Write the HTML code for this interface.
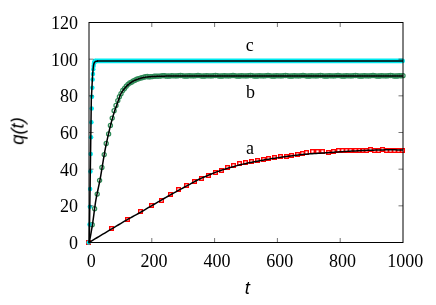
<!DOCTYPE html>
<html><head><meta charset="utf-8"><title>q(t)</title>
<style>html,body{margin:0;padding:0;background:#fff;}svg{display:block;}body{font-family:"Liberation Sans",sans-serif;}</style>
</head><body>
<svg width="436" height="305" viewBox="0 0 436 305">
<rect width="436" height="305" fill="#fff"/>
<g fill="none" stroke="#ff0000" stroke-width="1.4"><rect x="86.7" y="240.7" width="3.6" height="3.6"/><rect x="109.7" y="226.7" width="3.6" height="3.6"/><rect x="125.7" y="217.7" width="3.6" height="3.6"/><rect x="138.7" y="209.7" width="3.6" height="3.6"/><rect x="149.7" y="203.7" width="3.6" height="3.6"/><rect x="159.7" y="198.7" width="3.6" height="3.6"/><rect x="168.7" y="192.7" width="3.6" height="3.6"/><rect x="176.7" y="187.7" width="3.6" height="3.6"/><rect x="184.7" y="183.7" width="3.6" height="3.6"/><rect x="192.7" y="179.7" width="3.6" height="3.6"/><rect x="199.7" y="176.7" width="3.6" height="3.6"/><rect x="206.7" y="173.7" width="3.6" height="3.6"/><rect x="213.7" y="170.7" width="3.6" height="3.6"/><rect x="219.7" y="168.7" width="3.6" height="3.6"/><rect x="225.7" y="165.7" width="3.6" height="3.6"/><rect x="231.7" y="163.7" width="3.6" height="3.6"/><rect x="237.7" y="161.7" width="3.6" height="3.6"/><rect x="243.7" y="160.7" width="3.6" height="3.6"/><rect x="249.7" y="159.7" width="3.6" height="3.6"/><rect x="255.7" y="158.7" width="3.6" height="3.6"/><rect x="261.7" y="157.7" width="3.6" height="3.6"/><rect x="266.7" y="156.7" width="3.6" height="3.6"/><rect x="272.7" y="155.7" width="3.6" height="3.6"/><rect x="278.7" y="154.7" width="3.6" height="3.6"/><rect x="284.7" y="154.7" width="3.6" height="3.6"/><rect x="289.7" y="153.7" width="3.6" height="3.6"/><rect x="295.7" y="152.7" width="3.6" height="3.6"/><rect x="300.7" y="151.7" width="3.6" height="3.6"/><rect x="304.7" y="150.7" width="3.6" height="3.6"/><rect x="310.7" y="149.7" width="3.6" height="3.6"/><rect x="315.7" y="149.7" width="3.6" height="3.6"/><rect x="320.7" y="149.7" width="3.6" height="3.6"/><rect x="326.7" y="150.7" width="3.6" height="3.6"/><rect x="331.7" y="149.7" width="3.6" height="3.6"/><rect x="336.7" y="148.7" width="3.6" height="3.6"/><rect x="340.7" y="148.7" width="3.6" height="3.6"/><rect x="344.7" y="148.7" width="3.6" height="3.6"/><rect x="348.7" y="148.7" width="3.6" height="3.6"/><rect x="353.7" y="148.7" width="3.6" height="3.6"/><rect x="357.7" y="148.7" width="3.6" height="3.6"/><rect x="360.7" y="148.7" width="3.6" height="3.6"/><rect x="364.7" y="148.7" width="3.6" height="3.6"/><rect x="368.7" y="147.7" width="3.6" height="3.6"/><rect x="372.7" y="148.7" width="3.6" height="3.6"/><rect x="376.7" y="148.7" width="3.6" height="3.6"/><rect x="380.7" y="147.7" width="3.6" height="3.6"/><rect x="384.7" y="148.7" width="3.6" height="3.6"/><rect x="388.7" y="148.7" width="3.6" height="3.6"/><rect x="392.7" y="148.7" width="3.6" height="3.6"/><rect x="396.7" y="148.7" width="3.6" height="3.6"/><rect x="400.7" y="148.7" width="3.6" height="3.6"/></g>
<g fill="none" stroke="#2e8b57" stroke-width="1.25"><circle cx="92.20" cy="224.70" r="2.05"/><circle cx="94.60" cy="208.70" r="2.05"/><circle cx="97.20" cy="194.10" r="2.05"/><circle cx="99.60" cy="180.30" r="2.05"/><circle cx="101.90" cy="167.40" r="2.05"/><circle cx="104.20" cy="154.60" r="2.05"/><circle cx="106.20" cy="143.50" r="2.05"/><circle cx="108.60" cy="133.90" r="2.05"/><circle cx="110.40" cy="125.40" r="2.05"/><circle cx="112.20" cy="118.10" r="2.05"/><circle cx="114.10" cy="110.70" r="2.05"/><circle cx="116.00" cy="105.40" r="2.05"/><circle cx="117.80" cy="100.60" r="2.05"/><circle cx="119.40" cy="96.70" r="2.05"/><circle cx="121.00" cy="93.70" r="2.05"/><circle cx="122.75" cy="90.53" r="2.05"/><circle cx="124.50" cy="88.43" r="2.05"/><circle cx="126.25" cy="86.18" r="2.05"/><circle cx="128.00" cy="84.33" r="2.05"/><circle cx="129.75" cy="82.91" r="2.05"/><circle cx="131.50" cy="82.14" r="2.05"/><circle cx="133.25" cy="81.02" r="2.05"/><circle cx="135.00" cy="80.29" r="2.05"/><circle cx="136.75" cy="79.25" r="2.05"/><circle cx="138.50" cy="78.72" r="2.05"/><circle cx="140.25" cy="78.12" r="2.05"/><circle cx="142.00" cy="77.79" r="2.05"/><circle cx="143.75" cy="77.14" r="2.05"/><circle cx="145.50" cy="76.72" r="2.05"/><circle cx="147.25" cy="76.53" r="2.05"/><circle cx="149.00" cy="76.88" r="2.05"/><circle cx="150.75" cy="76.63" r="2.05"/><circle cx="152.50" cy="76.58" r="2.05"/><circle cx="154.25" cy="76.13" r="2.05"/><circle cx="156.00" cy="76.18" r="2.05"/><circle cx="157.75" cy="76.11" r="2.05"/><circle cx="159.50" cy="76.18" r="2.05"/><circle cx="161.25" cy="75.84" r="2.05"/><circle cx="163.00" cy="75.67" r="2.05"/><circle cx="164.75" cy="75.69" r="2.05"/><circle cx="166.50" cy="76.20" r="2.05"/><circle cx="168.25" cy="76.04" r="2.05"/><circle cx="170.00" cy="76.08" r="2.05"/><circle cx="171.75" cy="75.70" r="2.05"/><circle cx="173.50" cy="75.80" r="2.05"/><circle cx="175.25" cy="75.80" r="2.05"/><circle cx="177.00" cy="75.92" r="2.05"/><circle cx="178.75" cy="75.62" r="2.05"/><circle cx="180.50" cy="75.50" r="2.05"/><circle cx="182.25" cy="75.56" r="2.05"/><circle cx="184.00" cy="76.10" r="2.05"/><circle cx="185.75" cy="75.98" r="2.05"/><circle cx="187.50" cy="76.04" r="2.05"/><circle cx="189.25" cy="75.68" r="2.05"/><circle cx="191.00" cy="75.80" r="2.05"/><circle cx="192.75" cy="75.80" r="2.05"/><circle cx="194.50" cy="75.92" r="2.05"/><circle cx="196.25" cy="75.62" r="2.05"/><circle cx="198.00" cy="75.50" r="2.05"/><circle cx="199.75" cy="75.56" r="2.05"/><circle cx="201.50" cy="76.10" r="2.05"/><circle cx="203.25" cy="75.98" r="2.05"/><circle cx="205.00" cy="76.04" r="2.05"/><circle cx="206.75" cy="75.68" r="2.05"/><circle cx="208.50" cy="75.80" r="2.05"/><circle cx="210.25" cy="75.80" r="2.05"/><circle cx="212.00" cy="75.92" r="2.05"/><circle cx="213.75" cy="75.62" r="2.05"/><circle cx="215.50" cy="75.50" r="2.05"/><circle cx="217.25" cy="75.56" r="2.05"/><circle cx="219.00" cy="76.10" r="2.05"/><circle cx="220.75" cy="75.98" r="2.05"/><circle cx="222.50" cy="76.04" r="2.05"/><circle cx="224.25" cy="75.68" r="2.05"/><circle cx="226.00" cy="75.80" r="2.05"/><circle cx="227.75" cy="75.80" r="2.05"/><circle cx="229.50" cy="75.92" r="2.05"/><circle cx="231.25" cy="75.62" r="2.05"/><circle cx="233.00" cy="75.50" r="2.05"/><circle cx="234.75" cy="75.56" r="2.05"/><circle cx="236.50" cy="76.10" r="2.05"/><circle cx="238.25" cy="75.98" r="2.05"/><circle cx="240.00" cy="76.04" r="2.05"/><circle cx="241.75" cy="75.68" r="2.05"/><circle cx="243.50" cy="75.80" r="2.05"/><circle cx="245.25" cy="75.80" r="2.05"/><circle cx="247.00" cy="75.92" r="2.05"/><circle cx="248.75" cy="75.62" r="2.05"/><circle cx="250.50" cy="75.50" r="2.05"/><circle cx="252.25" cy="75.56" r="2.05"/><circle cx="254.00" cy="76.10" r="2.05"/><circle cx="255.75" cy="75.98" r="2.05"/><circle cx="257.50" cy="76.04" r="2.05"/><circle cx="259.25" cy="75.68" r="2.05"/><circle cx="261.00" cy="75.80" r="2.05"/><circle cx="262.75" cy="75.80" r="2.05"/><circle cx="264.50" cy="75.92" r="2.05"/><circle cx="266.25" cy="75.62" r="2.05"/><circle cx="268.00" cy="75.50" r="2.05"/><circle cx="269.75" cy="75.56" r="2.05"/><circle cx="271.50" cy="76.10" r="2.05"/><circle cx="273.25" cy="75.98" r="2.05"/><circle cx="275.00" cy="76.04" r="2.05"/><circle cx="276.75" cy="75.68" r="2.05"/><circle cx="278.50" cy="75.80" r="2.05"/><circle cx="280.25" cy="75.80" r="2.05"/><circle cx="282.00" cy="75.92" r="2.05"/><circle cx="283.75" cy="75.62" r="2.05"/><circle cx="285.50" cy="75.50" r="2.05"/><circle cx="287.25" cy="75.56" r="2.05"/><circle cx="289.00" cy="76.10" r="2.05"/><circle cx="290.75" cy="75.98" r="2.05"/><circle cx="292.50" cy="76.04" r="2.05"/><circle cx="294.25" cy="75.68" r="2.05"/><circle cx="296.00" cy="75.80" r="2.05"/><circle cx="297.75" cy="75.80" r="2.05"/><circle cx="299.50" cy="75.92" r="2.05"/><circle cx="301.25" cy="75.62" r="2.05"/><circle cx="303.00" cy="75.50" r="2.05"/><circle cx="304.75" cy="75.56" r="2.05"/><circle cx="306.50" cy="76.10" r="2.05"/><circle cx="308.25" cy="75.98" r="2.05"/><circle cx="310.00" cy="76.04" r="2.05"/><circle cx="311.75" cy="75.68" r="2.05"/><circle cx="313.50" cy="75.80" r="2.05"/><circle cx="315.25" cy="75.80" r="2.05"/><circle cx="317.00" cy="75.92" r="2.05"/><circle cx="318.75" cy="75.62" r="2.05"/><circle cx="320.50" cy="75.50" r="2.05"/><circle cx="322.25" cy="75.56" r="2.05"/><circle cx="324.00" cy="76.10" r="2.05"/><circle cx="325.75" cy="75.98" r="2.05"/><circle cx="327.50" cy="76.04" r="2.05"/><circle cx="329.25" cy="75.68" r="2.05"/><circle cx="331.00" cy="75.80" r="2.05"/><circle cx="332.75" cy="75.80" r="2.05"/><circle cx="334.50" cy="75.92" r="2.05"/><circle cx="336.25" cy="75.62" r="2.05"/><circle cx="338.00" cy="75.50" r="2.05"/><circle cx="339.75" cy="75.56" r="2.05"/><circle cx="341.50" cy="76.10" r="2.05"/><circle cx="343.25" cy="75.98" r="2.05"/><circle cx="345.00" cy="76.04" r="2.05"/><circle cx="346.75" cy="75.68" r="2.05"/><circle cx="348.50" cy="75.80" r="2.05"/><circle cx="350.25" cy="75.80" r="2.05"/><circle cx="352.00" cy="75.92" r="2.05"/><circle cx="353.75" cy="75.62" r="2.05"/><circle cx="355.50" cy="75.50" r="2.05"/><circle cx="357.25" cy="75.56" r="2.05"/><circle cx="359.00" cy="76.10" r="2.05"/><circle cx="360.75" cy="75.98" r="2.05"/><circle cx="362.50" cy="76.04" r="2.05"/><circle cx="364.25" cy="75.68" r="2.05"/><circle cx="366.00" cy="75.80" r="2.05"/><circle cx="367.75" cy="75.80" r="2.05"/><circle cx="369.50" cy="75.92" r="2.05"/><circle cx="371.25" cy="75.62" r="2.05"/><circle cx="373.00" cy="75.50" r="2.05"/><circle cx="374.75" cy="75.56" r="2.05"/><circle cx="376.50" cy="76.10" r="2.05"/><circle cx="378.25" cy="75.98" r="2.05"/><circle cx="380.00" cy="76.04" r="2.05"/><circle cx="381.75" cy="75.68" r="2.05"/><circle cx="383.50" cy="75.80" r="2.05"/><circle cx="385.25" cy="75.80" r="2.05"/><circle cx="387.00" cy="75.92" r="2.05"/><circle cx="388.75" cy="75.62" r="2.05"/><circle cx="390.50" cy="75.50" r="2.05"/><circle cx="392.25" cy="75.56" r="2.05"/><circle cx="394.00" cy="76.10" r="2.05"/><circle cx="395.75" cy="75.98" r="2.05"/><circle cx="397.50" cy="76.04" r="2.05"/><circle cx="399.25" cy="75.68" r="2.05"/><circle cx="401.00" cy="75.80" r="2.05"/><circle cx="403.00" cy="75.70" r="2.05"/></g>
<g fill="#00eaf0"><circle cx="88.65" cy="242.55" r="2.25"/><circle cx="89.51" cy="224.40" r="2.25"/><circle cx="89.83" cy="206.80" r="2.25"/><circle cx="90.14" cy="189.02" r="2.25"/><circle cx="90.46" cy="171.42" r="2.25"/><circle cx="90.77" cy="154.00" r="2.25"/><circle cx="91.08" cy="137.32" r="2.25"/><circle cx="91.40" cy="122.28" r="2.25"/><circle cx="91.71" cy="108.53" r="2.25"/><circle cx="92.03" cy="96.80" r="2.25"/><circle cx="92.34" cy="87.63" r="2.25"/><circle cx="92.65" cy="79.57" r="2.25"/><circle cx="92.97" cy="73.88" r="2.25"/><circle cx="93.28" cy="69.30" r="2.25"/><circle cx="93.60" cy="66.00" r="2.25"/><circle cx="93.91" cy="63.80" r="2.25"/><circle cx="94.22" cy="62.52" r="2.25"/><circle cx="94.54" cy="61.78" r="2.25"/><circle cx="94.85" cy="61.42" r="2.25"/><circle cx="95.17" cy="61.23" r="2.25"/><circle cx="95.48" cy="61.05" r="2.25"/></g>
<line x1="95.28" y1="60.95" x2="402.6" y2="60.95" stroke="#00eaf0" stroke-width="4.8" stroke-linecap="round"/>
<polyline points="89.00,242.50 90.97,241.31 92.95,240.13 94.92,238.94 96.90,237.76 98.87,236.57 100.85,235.39 102.82,234.21 104.80,233.02 106.77,231.84 108.75,230.66 110.72,229.48 112.70,228.30 114.67,227.12 116.65,225.93 118.62,224.74 120.60,223.55 122.57,222.38 124.55,221.21 126.52,220.06 128.50,218.93 130.47,217.84 132.45,216.76 134.42,215.69 136.40,214.61 138.37,213.52 140.35,212.40 142.32,211.25 144.30,210.08 146.27,208.90 148.25,207.71 150.22,206.54 152.19,205.38 154.17,204.23 156.14,203.08 158.12,201.94 160.09,200.80 162.07,199.65 164.04,198.51 166.02,197.37 167.99,196.23 169.97,195.10 171.94,193.99 173.92,192.89 175.89,191.79 177.87,190.71 179.84,189.63 181.82,188.57 183.79,187.51 185.77,186.45 187.74,185.39 189.72,184.29 191.69,183.18 193.67,182.08 195.64,181.00 197.62,179.97 199.59,179.00 201.57,178.12 203.54,177.31 205.52,176.48 207.49,175.64 209.47,174.80 211.44,173.97 213.42,173.16 215.39,172.38 217.36,171.65 219.34,170.95 221.31,170.28 223.29,169.63 225.26,169.00 227.24,168.39 229.21,167.81 231.19,167.23 233.16,166.67 235.14,166.13 237.11,165.60 239.09,165.09 241.06,164.59 243.04,164.12 245.01,163.67 246.99,163.24 248.96,162.82 250.94,162.42 252.91,162.03 254.89,161.65 256.86,161.28 258.84,160.91 260.81,160.54 262.79,160.18 264.76,159.83 266.74,159.49 268.71,159.15 270.69,158.83 272.66,158.52 274.64,158.21 276.61,157.92 278.58,157.63 280.56,157.35 282.53,157.08 284.51,156.81 286.48,156.54 288.46,156.27 290.43,156.00 292.41,155.73 294.38,155.47 296.36,155.22 298.33,154.98 300.31,154.75 302.28,154.55 304.26,154.36 306.23,154.19 308.21,154.02 310.18,153.87 312.16,153.72 314.13,153.59 316.11,153.45 318.08,153.32 320.06,153.19 322.03,153.06 324.01,152.93 325.98,152.80 327.96,152.67 329.93,152.53 331.91,152.39 333.88,152.25 335.86,152.11 337.83,151.97 339.81,151.83 341.78,151.70 343.75,151.57 345.73,151.45 347.70,151.33 349.68,151.22 351.65,151.11 353.63,151.01 355.60,150.91 357.58,150.80 359.55,150.71 361.53,150.61 363.50,150.52 365.48,150.44 367.45,150.35 369.43,150.28 371.40,150.21 373.38,150.15 375.35,150.09 377.33,150.04 379.30,149.98 381.28,149.93 383.25,149.88 385.23,149.84 387.20,149.82 389.18,149.80 391.15,149.80 393.13,149.82 395.10,149.85 397.08,149.89 399.05,149.95 401.03,150.02 403.00,150.10" fill="none" stroke="#000" stroke-width="1.5" stroke-linejoin="round"/>
<polyline points="89.00,243.43 89.49,241.09 89.99,238.62 90.48,236.03 90.97,233.32 91.47,230.49 91.96,227.56 92.46,224.52 92.95,221.16 93.44,217.54 93.94,213.78 94.43,210.02 94.92,206.37 95.42,202.98 95.91,199.95 96.41,197.23 96.90,194.69 97.39,192.29 97.89,189.98 98.38,187.70 98.87,185.40 99.37,183.02 99.86,180.52 100.35,177.86 100.85,175.06 101.34,172.16 101.84,169.19 102.33,166.17 102.82,163.14 103.32,160.13 103.81,157.16 104.30,154.28 104.80,151.49 105.29,148.85 105.78,146.37 106.28,144.01 106.77,141.70 107.27,139.42 107.76,137.19 108.25,135.00 108.75,132.85 109.24,130.75 109.73,128.69 110.23,126.68 110.72,124.72 111.22,122.80 111.71,120.93 112.20,119.12 112.70,117.35 113.19,115.63 113.68,113.96 114.18,112.35 114.67,110.85 115.16,109.46 115.66,108.12 116.15,106.77 116.65,105.38 117.14,103.96 117.63,102.54 118.13,101.11 118.62,99.69 119.11,98.28 119.61,96.82 120.10,95.47 120.59,94.37 121.09,93.41 121.58,92.56 122.08,91.78 122.57,91.06 123.06,90.37 123.56,89.73 124.05,89.11 124.54,88.52 125.04,87.95 125.53,87.39 126.03,86.86 126.52,86.33 127.01,85.83 127.51,85.34 128.00,84.88" fill="none" stroke="#000" stroke-width="1.5" stroke-linejoin="round"/>
<polyline points="127.50,85.35 128.39,84.52 129.28,83.77 130.17,83.05 131.06,82.38 131.95,81.78 132.84,81.27 133.73,80.83 134.62,80.43 135.51,80.07 136.40,79.73 137.29,79.39 138.18,79.06 139.07,78.73 139.96,78.43 140.85,78.16 141.74,77.94 142.63,77.75 143.52,77.58 144.41,77.41 145.30,77.26 146.19,77.12 147.08,77.00 147.97,76.89 148.86,76.80 149.75,76.72 150.64,76.66 151.53,76.60 152.42,76.55 153.31,76.50 154.19,76.46 155.08,76.41 155.97,76.38 156.86,76.34 157.75,76.31 158.64,76.29 159.53,76.26 160.42,76.24 161.31,76.22 162.20,76.20 163.09,76.17 163.98,76.15 164.87,76.13 165.76,76.11 166.65,76.09 167.54,76.08 168.43,76.06 169.32,76.05 170.21,76.03 171.10,76.02 171.99,76.01 172.88,76.01 173.77,76.00 174.66,76.00 175.55,76.00 176.44,76.00 177.33,76.00 178.22,76.00 179.11,76.00 180.00,76.00 182.00,76.00 185.75,76.00 189.49,76.00 193.24,76.00 196.98,76.00 200.73,76.00 204.47,76.00 208.22,76.00 211.97,76.00 215.71,76.00 219.46,76.00 223.20,76.00 226.95,76.00 230.69,76.00 234.44,76.00 238.19,76.00 241.93,76.00 245.68,76.00 249.42,76.00 253.17,76.00 256.92,76.00 260.66,76.00 264.41,76.00 268.15,76.00 271.90,76.00 275.64,76.00 279.39,76.00 283.14,76.00 286.88,76.00 290.63,76.00 294.37,76.00 298.12,76.00 301.86,76.00 305.61,76.00 309.36,76.00 313.10,76.00 316.85,76.00 320.59,76.00 324.34,76.00 328.08,76.00 331.83,76.00 335.58,76.00 339.32,76.00 343.07,76.00 346.81,76.00 350.56,76.00 354.31,76.00 358.05,76.00 361.80,76.00 365.54,76.00 369.29,76.00 373.03,76.00 376.78,76.00 380.53,76.00 384.27,76.00 388.02,76.00 391.76,76.00 395.51,76.00 399.25,76.00 403.00,76.00" fill="none" stroke="#000" stroke-width="1.5" stroke-linejoin="round"/>
<polyline points="89.25,242.5 90.05,190 91.3,100 92.6,74.6 93.25,67.8 93.55,65.2 94.0,63.4 94.6,62.2 95.4,61.5 96.5,61.15 98,61.0" fill="none" stroke="#000" stroke-width="1.5" stroke-linejoin="round"/>
<line x1="97" y1="61.0" x2="403" y2="61.0" stroke="#000" stroke-width="1.3"/>
<rect x="89.0" y="22.5" width="314.0" height="220.0" fill="none" stroke="#000" stroke-width="1"/>
<g stroke="#000" stroke-width="0.55"><line x1="89.0" y1="205.83" x2="93.5" y2="205.83"/><line x1="403.0" y1="205.83" x2="398.5" y2="205.83"/><line x1="89.0" y1="169.17" x2="93.5" y2="169.17"/><line x1="403.0" y1="169.17" x2="398.5" y2="169.17"/><line x1="89.0" y1="132.50" x2="93.5" y2="132.50"/><line x1="403.0" y1="132.50" x2="398.5" y2="132.50"/><line x1="89.0" y1="95.83" x2="93.5" y2="95.83"/><line x1="403.0" y1="95.83" x2="398.5" y2="95.83"/><line x1="89.0" y1="59.17" x2="93.5" y2="59.17"/><line x1="403.0" y1="59.17" x2="398.5" y2="59.17"/><line x1="151.80" y1="242.5" x2="151.80" y2="238.0"/><line x1="151.80" y1="22.5" x2="151.80" y2="27.0"/><line x1="214.60" y1="242.5" x2="214.60" y2="238.0"/><line x1="214.60" y1="22.5" x2="214.60" y2="27.0"/><line x1="277.40" y1="242.5" x2="277.40" y2="238.0"/><line x1="277.40" y1="22.5" x2="277.40" y2="27.0"/><line x1="340.20" y1="242.5" x2="340.20" y2="238.0"/><line x1="340.20" y1="22.5" x2="340.20" y2="27.0"/></g>
<g font-family="'Liberation Serif', serif" font-size="18" fill="#000" style="filter:grayscale(1)"><text x="78" y="249.10" text-anchor="end">0</text><text x="78" y="212.43" text-anchor="end">20</text><text x="78" y="175.77" text-anchor="end">40</text><text x="78" y="139.10" text-anchor="end">60</text><text x="78" y="102.43" text-anchor="end">80</text><text x="78" y="65.77" text-anchor="end">100</text><text x="78" y="29.10" text-anchor="end">120</text><text x="91.30" y="267" text-anchor="middle">0</text><text x="154.10" y="267" text-anchor="middle">200</text><text x="216.90" y="267" text-anchor="middle">400</text><text x="279.70" y="267" text-anchor="middle">600</text><text x="342.50" y="267" text-anchor="middle">800</text><text x="405.30" y="267" text-anchor="middle">1000</text><text x="249.8" y="50.7" text-anchor="middle">c</text><text x="250.5" y="98.4" text-anchor="middle">b</text><text x="250.1" y="153.5" text-anchor="middle">a</text></g>
<g font-family="'Liberation Sans', sans-serif" font-size="18.5" font-style="italic" fill="#000" style="filter:grayscale(1)">
<text x="247.2" y="294.2" text-anchor="middle">t</text>
<text transform="translate(23.6,131.1) rotate(-90)" text-anchor="middle">q(t)</text>
</g>
</svg>
</body></html>
